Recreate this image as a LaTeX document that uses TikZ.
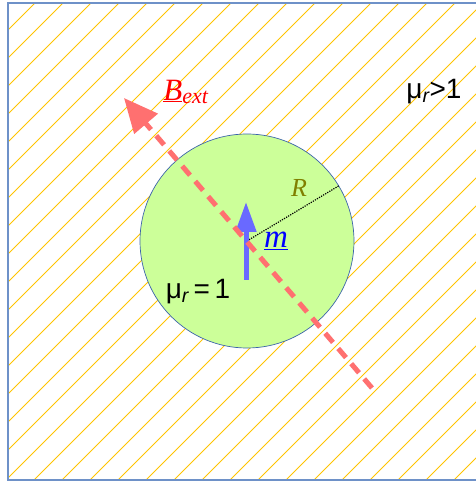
\documentclass[tikz,border=0pt]{standalone}
\usepackage{fontspec}
\setmainfont{Liberation Serif}
\newfontfamily\labelfont{Liberation Sans}
\usetikzlibrary{arrows.meta}
\definecolor{hatchyellow}{RGB}{255,196,0}
\definecolor{frameblue}{RGB}{110,145,200}
\definecolor{diskgreen}{RGB}{204,255,153}
\definecolor{diskblue}{RGB}{60,100,170}
\definecolor{fieldred}{RGB}{255,112,112}
\definecolor{momentblue}{RGB}{105,105,255}
\definecolor{radiusolive}{RGB}{128,128,0}
\begin{document}
\begin{tikzpicture}[x=1pt, y=1pt,
    hatch/.style={draw=hatchyellow, line width=0.9pt},
    frame/.style={draw=frameblue, line width=1.5pt},
    disk/.style={circle, draw=diskblue, fill=diskgreen, line width=0.7pt, inner sep=0pt},
    field/.style={draw=fieldred, line width=5pt, dash pattern=on 12pt off 8pt, -{Triangle[length=34pt,width=30pt]}},
    moment/.style={draw=momentblue, line width=5pt, -{Triangle[length=30pt,width=20pt]}},
    radius_line/.style={draw, dash pattern=on 1.2pt off 1.2pt, line width=1.2pt}
]
    \useasboundingbox (0,0) rectangle (476,482);
    % Define coordinates
    \def\cx{247}
    \def\cy{241}
    \def\rad{107}

    % Hatched medium (lines y = x + c)
    \begin{scope}
        \clip (8,2) rectangle (490,479);
        \foreach \c in {472,444,...,-500} {
            \draw[hatch] (0,\c) -- (500,\c+500);
        }
    \end{scope}
    \draw[frame] (8,2) rectangle (490,479);

    % Sphere
    \node[disk, minimum size=2*\rad pt] (disk) at (\cx,\cy) {};
    \draw[radius_line] (disk.center) -- (disk.31);

    % Moment and external field
    \coordinate (mtail) at (246,202);
    \coordinate (mhead) at (246,280);
    \draw[moment] (mtail) -- (mhead);
    \coordinate (btail) at (372,94);
    \coordinate (bhead) at (124,384);
    \draw[field] (btail) -- (bhead);

    % Labels
    \node[text=red, font=\fontsize{31}{31}\selectfont\itshape] (bext) at (186,390) {\underline{B}\textsubscript{\fontsize{22}{22}\selectfont ext}};
    \node[font=\labelfont\fontsize{28}{28}\selectfont] (muout) at (434,390) {μ\textsubscript{\itshape r}>1};
    \node[font=\labelfont\fontsize{28}{28}\selectfont] (muin) at (198,190) {μ\textsubscript{\itshape r}\,=\,1};
    \node[text=radiusolive, font=\fontsize{26}{26}\selectfont\itshape] (rlabel) at (299,294) {R};
    \node[text=blue, font=\fontsize{33}{33}\selectfont\itshape] (mlabel) at (276,241) {\underline{m}};

\end{tikzpicture}
\end{document}
